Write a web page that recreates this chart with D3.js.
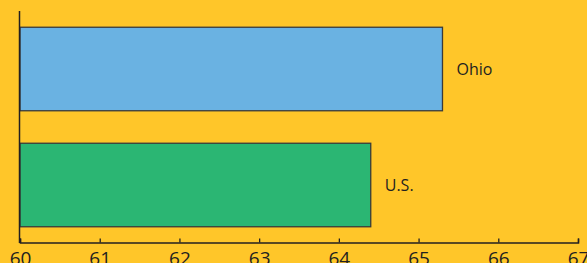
<!DOCTYPE html>
<html>
<head>
  <meta charset="UTF-8">
  <title>Ohio vs U.S.</title>
  <style>
    body { margin: 0; background: #ffc629; }
    svg { display: block; }
    text { font-family: "Open Sans", "Noto Sans", sans-serif; fill: #231f20; }
  </style>
</head>
<body>
  <svg width="587" height="263" id="chart"></svg>
  <script src="https://d3js.org/d3.v7.min.js"></script>
  <script>
    var categories = ["Ohio", "U.S."];
    var values = [65.3, 64.4];
    var barColors = ["#6ab2e2", "#2bb673"];
    var tickValues = [60, 61, 62, 63, 64, 65, 66, 67];

    var svg = d3.select("#chart");

    svg.append("rect")
      .attr("width", 587)
      .attr("height", 263)
      .attr("fill", "#ffc629");

    var x = d3.scaleLinear().domain([60, 67]).range([20, 578]);
    var y = d3.scaleBand().domain(categories).range([11, 243])
      .paddingInner(0.28).paddingOuter(0.14);

    // bars
    svg.selectAll(".bar")
      .data(categories)
      .enter().append("rect")
      .attr("class", "bar")
      .attr("x", x(60))
      .attr("y", function (d) { return y(d); })
      .attr("width", function (d, i) { return x(values[i]) - x(60); })
      .attr("height", y.bandwidth())
      .attr("fill", function (d, i) { return barColors[i]; })
      .attr("stroke", "#3a3a3a")
      .attr("stroke-width", 1.3);

    // bar labels
    svg.selectAll(".label")
      .data(categories)
      .enter().append("text")
      .attr("class", "label")
      .attr("x", function (d, i) { return x(values[i]) + 14; })
      .attr("y", function (d) { return y(d) + y.bandwidth() / 2; })
      .attr("dy", "0.38em")
      .style("font-size", "16px")
      .text(function (d) { return d; });

    // x axis, ticks pointing up
    var xAxis = svg.append("g")
      .attr("transform", "translate(0,242.5)")
      .call(d3.axisBottom(x).tickValues(tickValues).tickFormat(d3.format("d"))
        .tickSizeInner(-4).tickSizeOuter(-4).tickPadding(9));
    xAxis.select(".domain").attr("stroke", "#231f20").attr("stroke-width", 1.5);
    xAxis.selectAll(".tick line").attr("stroke", "#231f20").attr("stroke-width", 1.3);
    xAxis.selectAll("text")
      .style("font-size", "19px")
      .attr("fill", "#231f20");

    // y axis line
    svg.append("line")
      .attr("x1", x(60) - 0.5).attr("x2", x(60) - 0.5)
      .attr("y1", 11).attr("y2", 243)
      .attr("stroke", "#231f20")
      .attr("stroke-width", 1.5);
  </script>
</body>
</html>
